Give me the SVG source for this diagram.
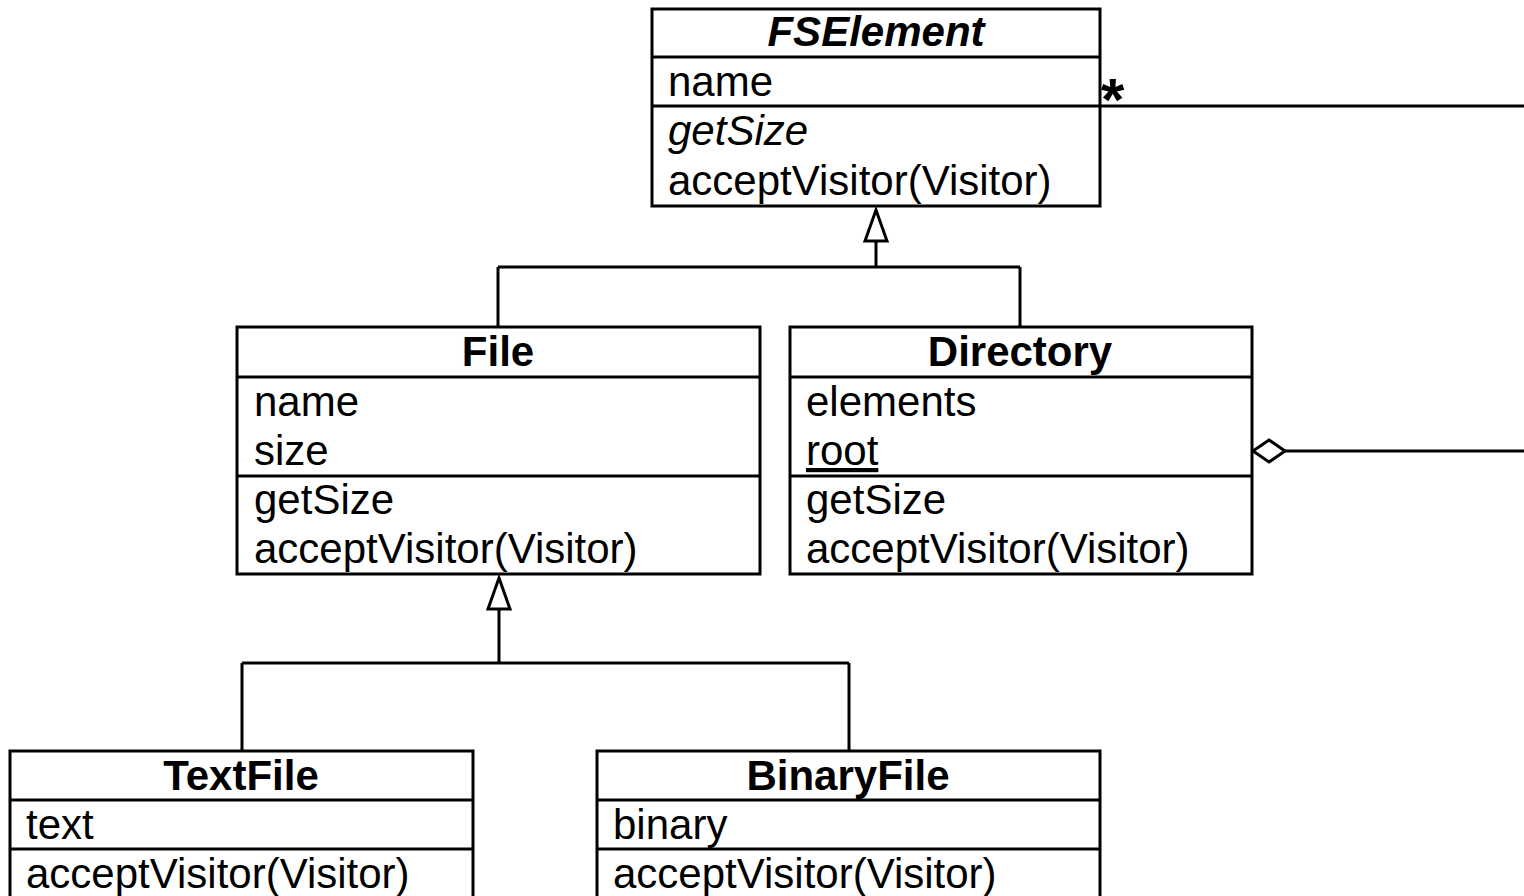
<svg xmlns="http://www.w3.org/2000/svg" width="1524" height="896" viewBox="0 0 1524 896">
<style>
  .box { fill: #fff; stroke: #000; stroke-width: 3; }
  .div { stroke: #000; stroke-width: 3; }
  .ln { fill: none; stroke: #000; stroke-width: 3; }
  .t { font-family: "Liberation Sans", Arial, sans-serif; font-size: 42px; fill: #000; }
  .title { font-weight: bold; text-anchor: middle; }
  .it { font-style: italic; }
  .tri { fill: #fff; stroke: #000; stroke-width: 3; stroke-linejoin: miter; }
</style>
<rect width="1524" height="896" fill="#fff"/>
<g id="connectors">
  <path class="ln" d="M876 241 V267 M498 267 H1020 M498 267 V327 M1020 267 V327"/>
  <polygon class="tri" points="876,210 865,241 887,241"/>
  <path class="ln" d="M499 609 V663 M242 663 H849 M242 663 V751 M849 663 V751"/>
  <polygon class="tri" points="499,578 488,609 510,609"/>
  <path class="ln" d="M1100 106 H1524"/>
  <text class="t" x="1101" y="120" style="font-size:60px;font-weight:bold">*</text>
  <path class="ln" d="M1285 451 H1524"/>
  <polygon class="tri" points="1253,451 1269,440 1285,451 1269,462"/>
</g>
<g id="FSElement">
  <rect class="box" x="652" y="9" width="448" height="197"/>
  <line class="div" x1="652" y1="57" x2="1100" y2="57"/>
  <line class="div" x1="652" y1="106" x2="1100" y2="106"/>
  <text class="t title it" x="876" y="46">FSElement</text>
  <text class="t" x="668" y="96">name</text>
  <text class="t it" x="668" y="145">getSize</text>
  <text class="t" x="668" y="195">acceptVisitor(Visitor)</text>
</g>
<g id="File">
  <rect class="box" x="237" y="327" width="523" height="247"/>
  <line class="div" x1="237" y1="377" x2="760" y2="377"/>
  <line class="div" x1="237" y1="476" x2="760" y2="476"/>
  <text class="t title" x="498" y="366">File</text>
  <text class="t" x="254" y="416">name</text>
  <text class="t" x="254" y="465">size</text>
  <text class="t" x="254" y="514">getSize</text>
  <text class="t" x="254" y="563">acceptVisitor(Visitor)</text>
</g>
<g id="Directory">
  <rect class="box" x="790" y="327" width="462" height="247"/>
  <line class="div" x1="790" y1="377" x2="1252" y2="377"/>
  <line class="div" x1="790" y1="476" x2="1252" y2="476"/>
  <text class="t title" x="1020" y="366">Directory</text>
  <text class="t" x="806" y="416">elements</text>
  <text class="t" x="806" y="465" text-decoration="underline">root</text>
  <text class="t" x="806" y="514">getSize</text>
  <text class="t" x="806" y="563">acceptVisitor(Visitor)</text>
</g>
<g id="TextFile">
  <rect class="box" x="10" y="751" width="463" height="160"/>
  <line class="div" x1="10" y1="800" x2="473" y2="800"/>
  <line class="div" x1="10" y1="849" x2="473" y2="849"/>
  <text class="t title" x="241" y="790">TextFile</text>
  <text class="t" x="26" y="839">text</text>
  <text class="t" x="26" y="888">acceptVisitor(Visitor)</text>
</g>
<g id="BinaryFile">
  <rect class="box" x="597" y="751" width="503" height="160"/>
  <line class="div" x1="597" y1="800" x2="1100" y2="800"/>
  <line class="div" x1="597" y1="849" x2="1100" y2="849"/>
  <text class="t title" x="848" y="790">BinaryFile</text>
  <text class="t" x="613" y="839">binary</text>
  <text class="t" x="613" y="888">acceptVisitor(Visitor)</text>
</g>
</svg>
